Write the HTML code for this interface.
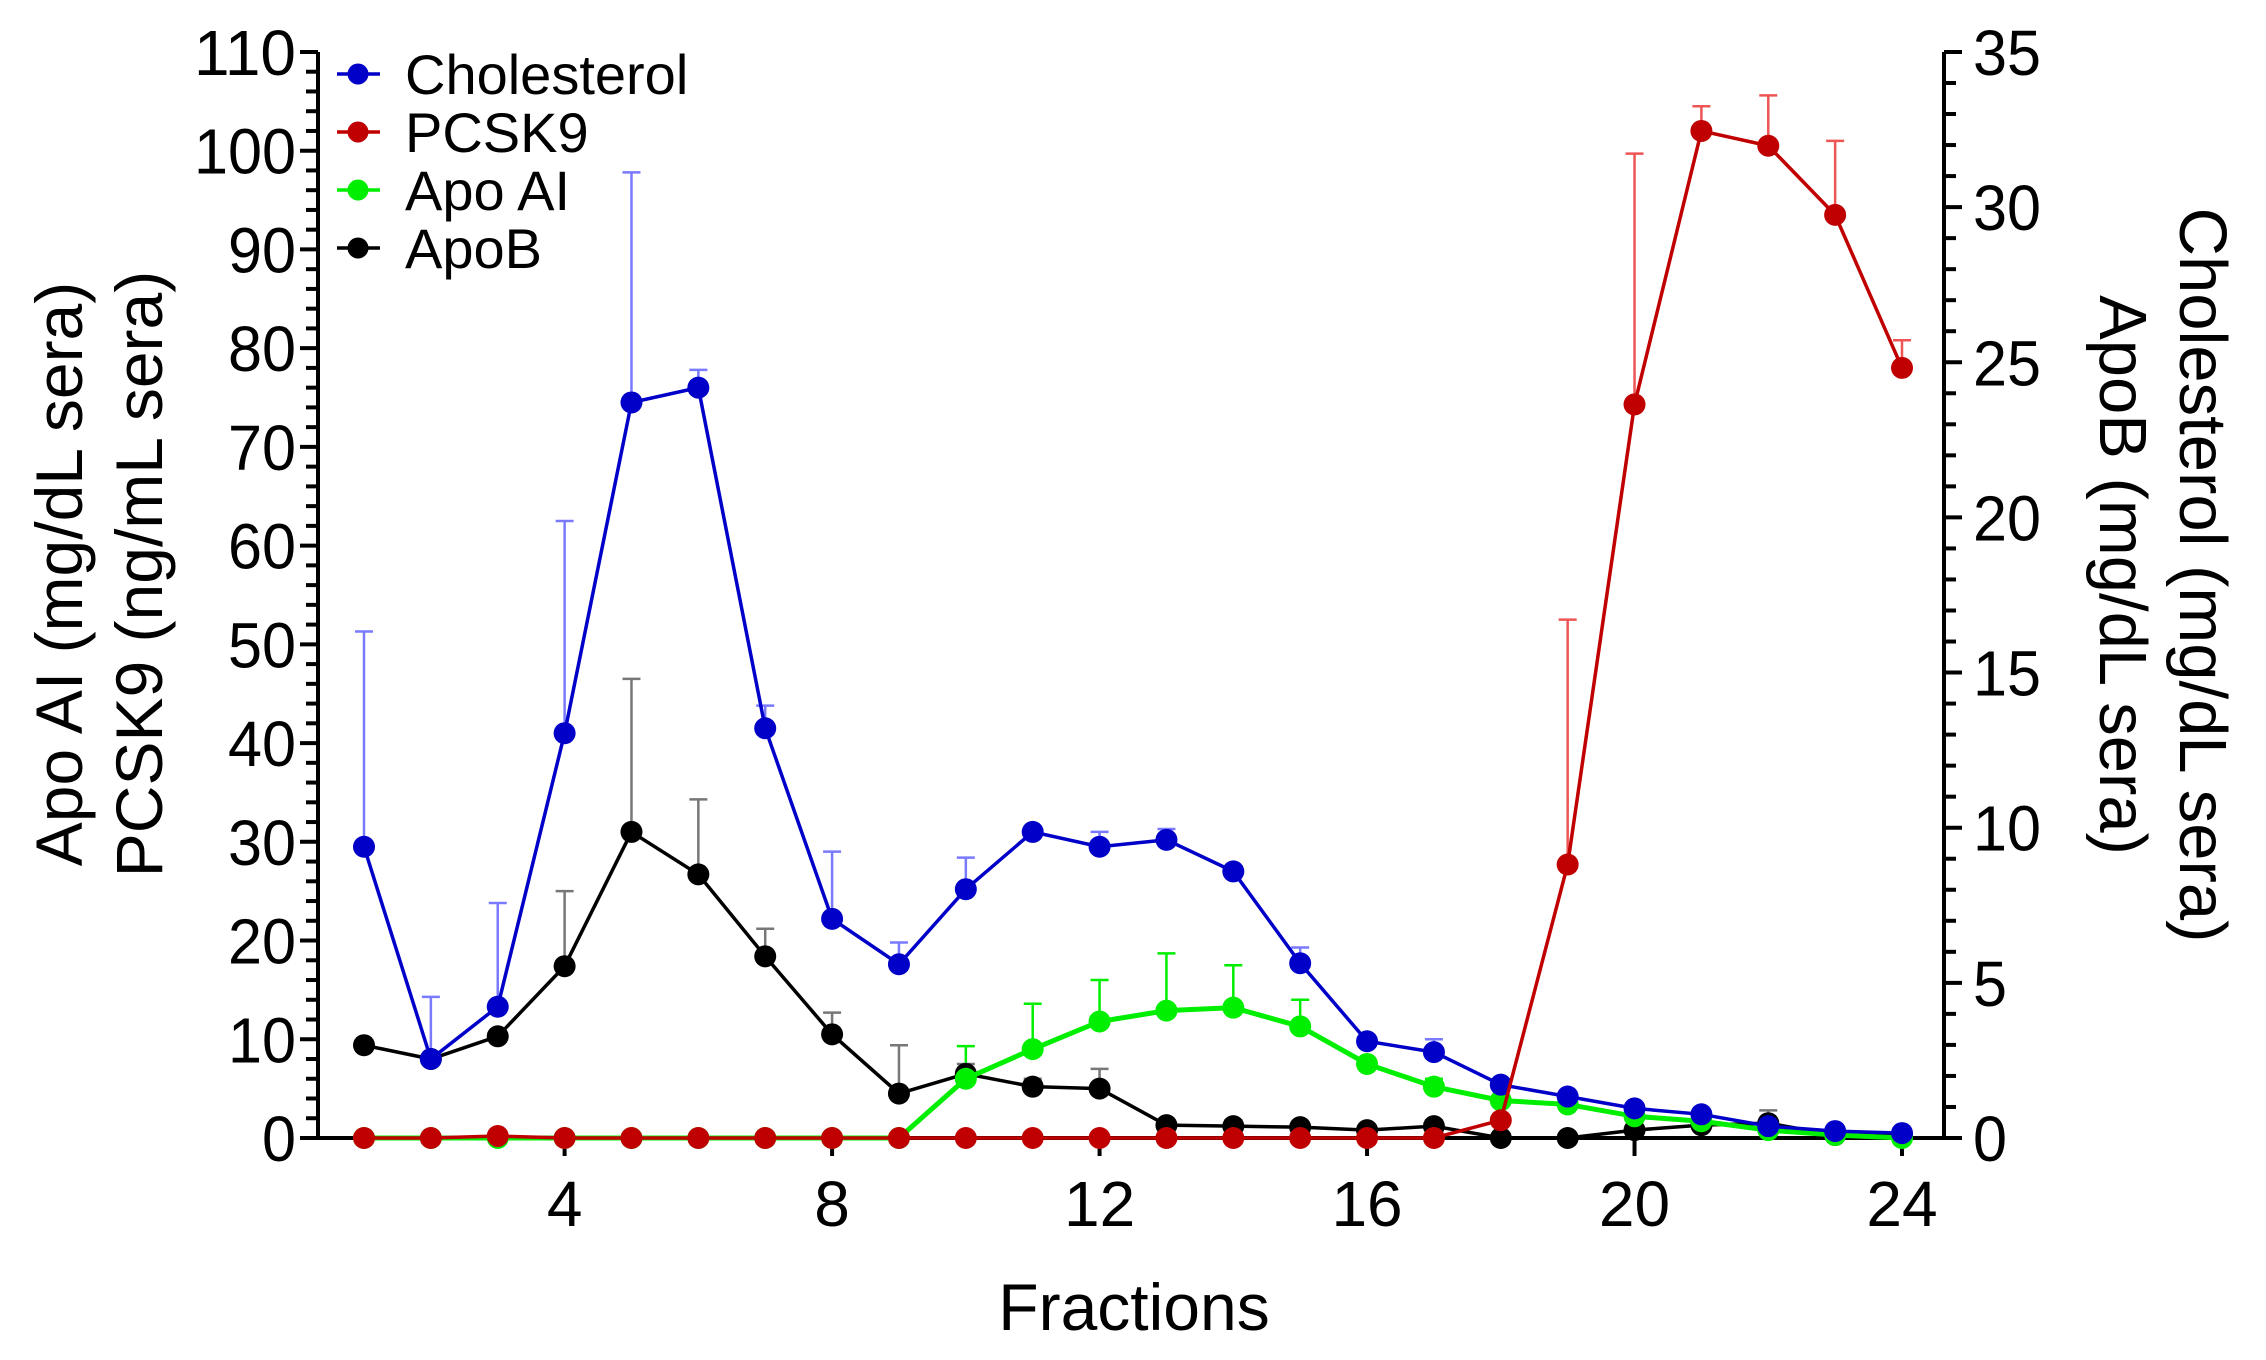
<!DOCTYPE html>
<html><head><meta charset="utf-8"><style>
html,body{margin:0;padding:0;background:#fff;}
svg{display:block;font-family:"Liberation Sans",Arial,sans-serif;}
</style></head><body>
<svg id="s" width="2266" height="1360" viewBox="0 0 2266 1360" xmlns="http://www.w3.org/2000/svg"></svg>
<script>
const s=document.getElementById('s');
const NS='http://www.w3.org/2000/svg';
function el(t,a,txt){const e=document.createElementNS(NS,t);for(const k in a)e.setAttribute(k,a[k]);if(txt!==undefined)e.textContent=txt;s.appendChild(e);return e;}
const X=f=>364+(f-1)*66.87;
const Y=v=>1138-v*9.873;
const AX=318, RX=1944, Y0=1138;
el('line',{x1:AX,y1:52,x2:AX,y2:Y0,stroke:'#000','stroke-width':4});
el('line',{x1:RX,y1:52,x2:RX,y2:Y0,stroke:'#000','stroke-width':4});
el('line',{x1:AX-18,y1:Y0,x2:RX+18,y2:Y0,stroke:'#000','stroke-width':4});
const W=n=>String(n).length*34;
for(let v=0;v<=110;v+=2){const maj=v%10==0;el('line',{x1:AX-(maj?18:12),y1:Y(v),x2:AX,y2:Y(v),stroke:'#000','stroke-width':4});
 if(maj)el('text',{x:AX-22,y:Y(v)+23,'font-size':64,'text-anchor':'end',textLength:W(v),lengthAdjust:'spacingAndGlyphs'},String(v));}
for(let v=0;v<=35;v++){const yy=Y0-v*31.03;const maj=v%5==0;el('line',{x1:RX,y1:yy,x2:RX+(maj?18:12),y2:yy,stroke:'#000','stroke-width':4});
 if(maj)el('text',{x:RX+29,y:yy+23,'font-size':64,textLength:W(v),lengthAdjust:'spacingAndGlyphs'},String(v));}
for(let f=4;f<=24;f+=4){el('line',{x1:X(f),y1:Y0,x2:X(f),y2:Y0+18,stroke:'#000','stroke-width':4});
 el('text',{x:X(f),y:Y0+88,'font-size':64,'text-anchor':'middle'},String(f));}
el('text',{x:1134,y:1330,'font-size':66,'text-anchor':'middle'},'Fractions');
el('text',{transform:'translate(82,574) rotate(-90)','font-size':66,'text-anchor':'middle'},'Apo AI (mg/dL sera)');
el('text',{transform:'translate(162,574) rotate(-90)','font-size':66,'text-anchor':'middle'},'PCSK9 (ng/mL sera)');
el('text',{transform:'translate(2180,575) rotate(90)','font-size':67,'text-anchor':'middle'},'Cholesterol  (mg/dL sera)');
el('text',{transform:'translate(2100,575) rotate(90)','font-size':67,'text-anchor':'middle'},'ApoB  (mg/dL sera)');
const series=[
 {c:'#0000c8',e:'#7a7aff',v:[29.5,8,13.3,41,74.5,76,41.5,22.2,17.6,25.2,31,29.5,30.2,27,17.7,9.8,8.7,5.4,4.2,3,2.4,1.2,0.7,0.5],
  err:{1:51.3,2:14.3,3:23.8,4:62.5,5:97.8,6:77.8,7:43.8,8:29,9:19.8,10:28.4,11:31.5,12:31,13:31.3,14:27.5,15:19.3,16:10.2,17:10}},
 {c:'#000',e:'#777',v:[9.4,8,10.3,17.4,31,26.7,18.4,10.5,4.5,6.5,5.2,5,1.3,1.2,1.1,0.8,1.2,0,0,0.8,1.3,1.5,0.3,0.3],
  err:{4:25,5:46.5,6:34.3,7:21.2,8:12.7,9:9.4,10:7.5,11:6,12:7,13:1.8,14:1.8,17:1.8,22:2.8}},
 {c:'#00ee00',e:'#00ee00',w:5,v:[0,0,0,0,0,0,0,0,0,6,9,11.8,12.9,13.2,11.3,7.5,5.2,3.8,3.4,2.2,1.7,0.8,0.3,0],
  err:{10:9.3,11:13.6,12:16,13:18.7,14:17.5,15:14,16:8,17:6}},
 {c:'#c00000',e:'#e55',v:[0,0,0.2,0,0,0,0,0,0,0,0,0,0,0,0,0,0,1.8,27.7,74.3,102,100.5,93.5,78],
  err:{19:52.5,20:99.7,21:104.5,22:105.6,23:101,24:80.8}}
];
const order=[1,2,0,3];
for(const sr of series){for(const k in sr.err){const f=+k;const x=X(f);const y1=Y(sr.v[f-1]),y2=Y(sr.err[k]);
 el('line',{x1:x,y1:y1,x2:x,y2:y2,stroke:sr.e,'stroke-width':2.5});el('line',{x1:x-9,y1:y2,x2:x+9,y2:y2,stroke:sr.e,'stroke-width':2.5});}}
for(const i of order){const sr=series[i];
 el('polyline',{points:sr.v.map((v,j)=>X(j+1)+','+Y(v)).join(' '),fill:'none',stroke:sr.c,'stroke-width':sr.w||3.5});
 sr.v.forEach((v,j)=>el('circle',{cx:X(j+1),cy:Y(v),r:11,fill:sr.c}));}
const L=[['Cholesterol','#0000c8'],['PCSK9','#c00000'],['Apo AI','#00ee00'],['ApoB','#000']];
L.forEach((l,i)=>{const y=74+i*58;el('line',{x1:337,y1:y,x2:380,y2:y,stroke:l[1],'stroke-width':3.5});el('circle',{cx:358,cy:y,r:10.5,fill:l[1]});
 el('text',{x:405,y:y+20,'font-size':56},l[0]);});
</script>
</body></html>
